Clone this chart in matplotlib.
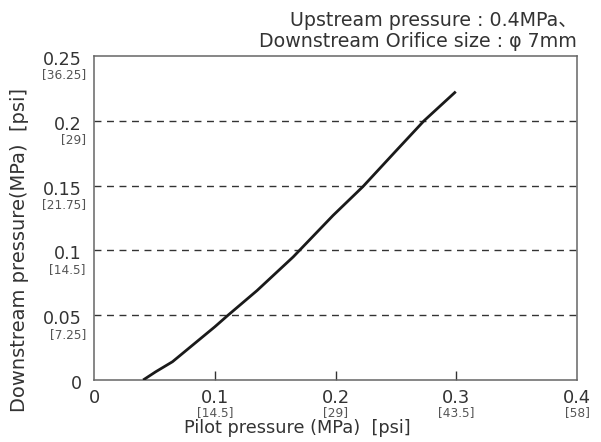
import matplotlib
matplotlib.use("Agg")
import matplotlib.pyplot as plt
import matplotlib.transforms as mtransforms

pilot = [0.0407, 0.0512, 0.065, 0.1, 0.111, 0.135, 0.165, 0.198, 0.2227, 0.2503, 0.2733, 0.2996]
downstream = [0.0, 0.0064, 0.0141, 0.041, 0.05, 0.069, 0.095, 0.127, 0.1492, 0.177, 0.2, 0.2225]

x_ticks = [0, 0.1, 0.2, 0.3, 0.4]
x_tick_labels = ["0", "0.1", "0.2", "0.3", "0.4"]
x_psi_labels = ["", "[14.5]", "[29]", "[43.5]", "[58]"]
y_ticks = [0, 0.05, 0.1, 0.15, 0.2, 0.25]
y_tick_labels = ["0", "0.05", "0.1", "0.15", "0.2", "0.25"]
y_psi_labels = ["", "[7.25]", "[14.5]", "[21.75]", "[29]", "[36.25]"]
grid_levels = [0.05, 0.1, 0.15, 0.2]

plt.rcParams["font.family"] = ["DejaVu Sans", "Noto Sans CJK JP"]

W, H = 601, 442
fig = plt.figure(figsize=(W / 100, H / 100), dpi=100)
L, R, T, B = 94, 577, 56, 380
ax = fig.add_axes([L / W, 1 - B / H, (R - L) / W, (B - T) / H])
ax.set_xlim(0, 0.4)
ax.set_ylim(0, 0.25)

for g in grid_levels:
    ax.axhline(g, color="#333333", lw=1.0, ls=(0, (5, 4)), zorder=1)

ax.plot(pilot, downstream, color="#1a1a1a", lw=2.0, zorder=3,
        solid_joinstyle="round", solid_capstyle="butt")

for s in ax.spines.values():
    s.set_color("#666666")
    s.set_linewidth(1.1)

ax.set_xticks([0.1, 0.2, 0.3])
ax.set_xticklabels([])
ax.set_yticks([])
ax.tick_params(axis="x", direction="in", length=6.5, width=1, color="#333333")

MAIN_C = "#333333"
PSI_C = "#555555"


def px_offset(dx, dy):
    return mtransforms.ScaledTranslation(dx / 100, -dy / 100, fig.dpi_scale_trans)


tx = mtransforms.blended_transform_factory(ax.transData, ax.transAxes)
for v, lab, psi in zip(x_ticks, x_tick_labels, x_psi_labels):
    ax.text(v, 0, lab, transform=tx + px_offset(0, 23), ha="center", va="baseline",
            fontsize=12.8, color=MAIN_C)
    if psi:
        ax.text(v, 0, psi, transform=tx + px_offset(0, 36.5), ha="center", va="baseline",
                fontsize=8.7, color=PSI_C)

ty = mtransforms.blended_transform_factory(ax.transAxes, ax.transData)
for v, lab, psi in zip(y_ticks, y_tick_labels, y_psi_labels):
    ax.text(0, v, lab, transform=ty + px_offset(-12, 9), ha="right", va="baseline",
            fontsize=12.6, color=MAIN_C)
    if psi:
        ax.text(0, v, psi, transform=ty + px_offset(-8, 22.5), ha="right", va="baseline",
                fontsize=8.7, color=PSI_C)

fig.text(297 / W, 1 - 433 / H, "Pilot pressure (MPa)  [psi]", ha="center", va="baseline",
         fontsize=12.75, color=MAIN_C)
fig.text(20 / W, 1 - 250 / H, "Downstream pressure(MPa)  [psi]", ha="center", va="center",
         rotation=90, fontsize=14, color=MAIN_C)

fig.text(577 / W, 1 - 26 / H, "Upstream pressure : 0.4MPa、", ha="right", va="baseline",
         fontsize=13.7, color=MAIN_C)
fig.text(577 / W, 1 - 47 / H, "Downstream Orifice size : φ 7mm", ha="right", va="baseline",
         fontsize=13.7, color=MAIN_C)

fig.savefig("out.png", dpi=100)
